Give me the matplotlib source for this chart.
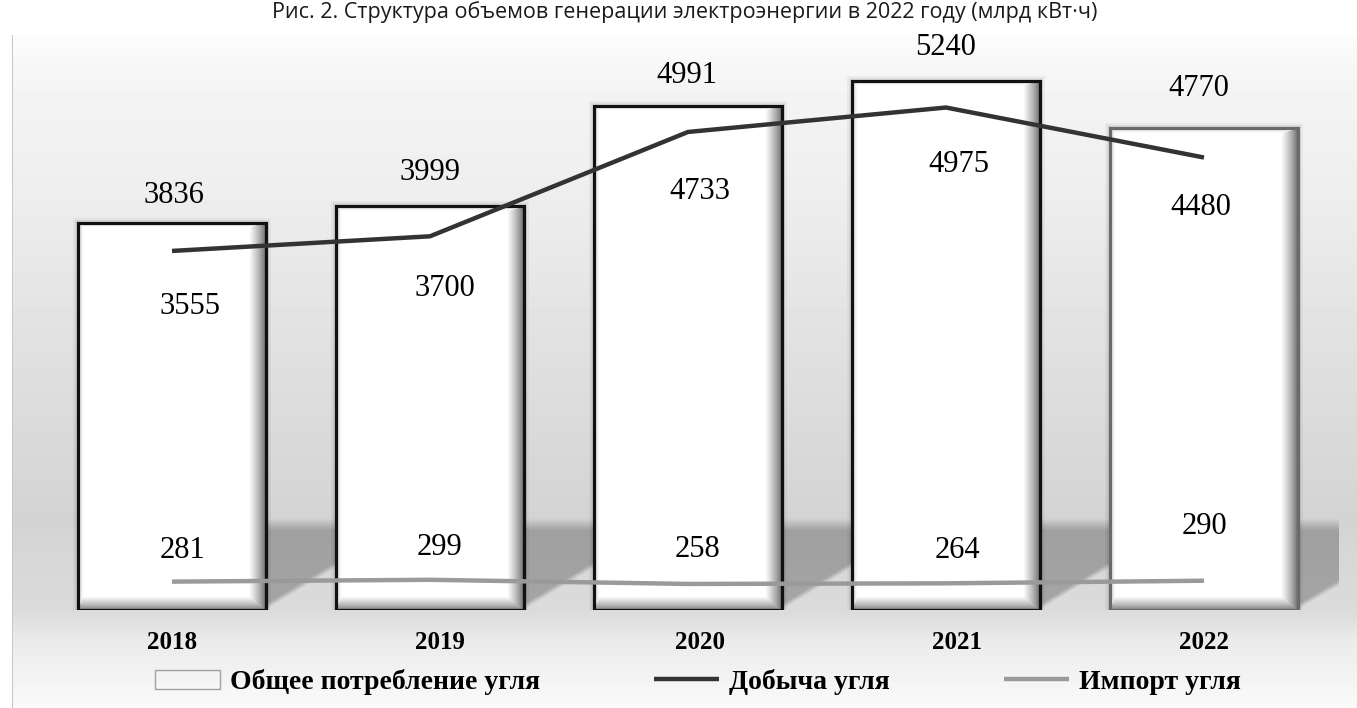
import numpy as np
import matplotlib.pyplot as plt
from matplotlib.transforms import ScaledTranslation

years = ['2018', '2019', '2020', '2021', '2022']
consumption = [3836, 3999, 4991, 5240, 4770]
production = [3555, 3700, 4733, 4975, 4480]
imports = [281, 299, 258, 264, 290]

title = 'Рис. 2. Структура объемов генерации электроэнергии в 2022 году (млрд кВт·ч)'
legend_names = ['Общее потребление угля', 'Добыча угля', 'Импорт угля']

W, H = 1357, 708
SERIF = 'Liberation Serif'

fig = plt.figure(figsize=(W / 100, H / 100), dpi=100)

# soft gray backdrop behind the plot
bg = fig.add_axes([0, 0, 1, 1], zorder=-10)
rows = np.arange(H)
shade = np.interp(rows, [0, 34, 35, 80, 200, 350, 480, 520, 612, 640, 708],
                  [1, 1, .99, .96, .93, .88, .84, .83, .86, .92, .98])
back = np.repeat(shade[:, None], W, axis=1)
back[:, :12] = 1.0
back[35:, 12] = 0.78
bg.imshow(back, cmap='gray', vmin=0, vmax=1, aspect='auto',
          extent=[0, W, H, 0], interpolation='bilinear')
bg.set_axis_off()

fig.text(685 / W, 1 - 18 / H, title, ha='center', va='baseline',
         fontfamily='Open Sans', fontsize=15.5, color='#1a1a1a')

# plot area: 258 px per category, zero line at y=610 px
ax = fig.add_axes([17.2 / W, 98 / H, 1341.6 / W, 570 / H])
ax.patch.set_alpha(0)
x = np.arange(len(years))
bw = 0.725
px_per_unit = 0.101
ymax = 570 / px_per_unit


def bevel(h, w, thin=5, wide_r=16, wide_b=13):
    yy, xx = np.mgrid[0:h, 0:w]
    dist = np.stack([xx / thin, (w - 1 - xx) / wide_r,
                     yy / thin, (h - 1 - yy) / wide_b])
    side = np.argmin(dist, axis=0)
    t = np.clip(np.min(dist, axis=0), 0, 1) ** 0.8
    tone = np.array([0.8, 0.42, 0.85, 0.5])[side]
    return tone + (1 - tone) * t


edge_colors = ['#111111'] * 4 + ['#6a6a6a']
shadow_len = [75, 75, 75, 75, 40]

# cast shadows to the right of each bar
for xi, L in zip(x, shadow_len):
    sh = np.zeros((92, L, 4))
    yy, xx = np.mgrid[0:92, 0:L]
    cut = 92 - 1 - xx * 0.6
    a = np.clip((cut - yy) / 6, 0, 1) * np.clip(yy / 12, 0, 1)
    sh[..., 3] = 0.25 * a
    x0 = xi + bw / 2
    ax.imshow(sh, extent=[x0, x0 + L / 258, 0, 92 / px_per_unit],
              aspect='auto', zorder=0.5, interpolation='bilinear')

# faint glow around the bars
for lw, al in [(10, 0.04), (6, 0.06)]:
    ax.bar(x, consumption, width=bw, fill=False, edgecolor=(0, 0, 0, al),
           linewidth=lw * 0.72, zorder=1)

ax.bar(x, consumption, width=bw, color='white', linewidth=0, zorder=2)
for xi, v in zip(x, consumption):
    img = bevel(int(round(v * px_per_unit)), int(round(bw * 258)))
    ax.imshow(img, cmap='gray', vmin=0, vmax=1, aspect='auto',
              extent=[xi - bw / 2, xi + bw / 2, 0, v], zorder=2.5,
              interpolation='bilinear')
ax.bar(x, consumption, width=bw, fill=False, edgecolor=edge_colors,
       linewidth=2.3, zorder=3, label=legend_names[0], facecolor='white')

ax.plot(x, production, color='#333333', lw=3.2, zorder=4,
        solid_capstyle='butt', label=legend_names[1])
ax.plot(x, imports, color='#9a9a9a', lw=3.2, zorder=4,
        solid_capstyle='butt', label=legend_names[2])

lab = dict(ha='center', va='center', fontfamily=SERIF, fontsize=22,
           textcoords='offset pixels', zorder=5)
total_off = [(2, 27), (0, 34), (-1, 30), (0, 33), (-5, 40)]
prod_off = [(18, -56), (15, -52), (12, -60), (13, -57), (-3, -50)]
imp_off = [(11, 31), (10, 32), (10, 34), (11, 33), (0, 54)]
for i, xi in enumerate(x):
    ax.annotate(f'{consumption[i]}', (xi, consumption[i]), xytext=total_off[i], **lab)
    ax.annotate(f'{production[i]}', (xi, production[i]), xytext=prod_off[i], **lab)
    ax.annotate(f'{imports[i]}', (xi, imports[i]), xytext=imp_off[i], **lab)

ax.set_xlim(-0.6, 4.6)
ax.set_ylim(0, ymax)
ax.set_xticks(x, years, fontfamily=SERIF, fontweight='bold', fontsize=18)
ax.tick_params(axis='x', length=0, pad=15)
year_dx = [0, 10, 12, 11, 0]
for t, dx in zip(ax.get_xticklabels(), year_dx):
    t.set_transform(t.get_transform() + ScaledTranslation(dx / 100, 0, fig.dpi_scale_trans))
ax.set_yticks([])
for s in ax.spines.values():
    s.set_visible(False)

handles, labels = ax.get_legend_handles_labels()
order = [labels.index(n) for n in legend_names]
leg = fig.legend([handles[i] for i in order], [labels[i] for i in order],
                 loc='center', bbox_to_anchor=(698 / W, 1 - 682 / H), ncol=3,
                 frameon=False, handlelength=2.34, handletextpad=0.36,
                 columnspacing=4.1,
                 prop=dict(family=SERIF, weight='bold', size=20))
for p in leg.get_patches():
    p.set_edgecolor('#a0a0a0')
    p.set_linewidth(1)

fig.savefig('out.png', dpi=100)
